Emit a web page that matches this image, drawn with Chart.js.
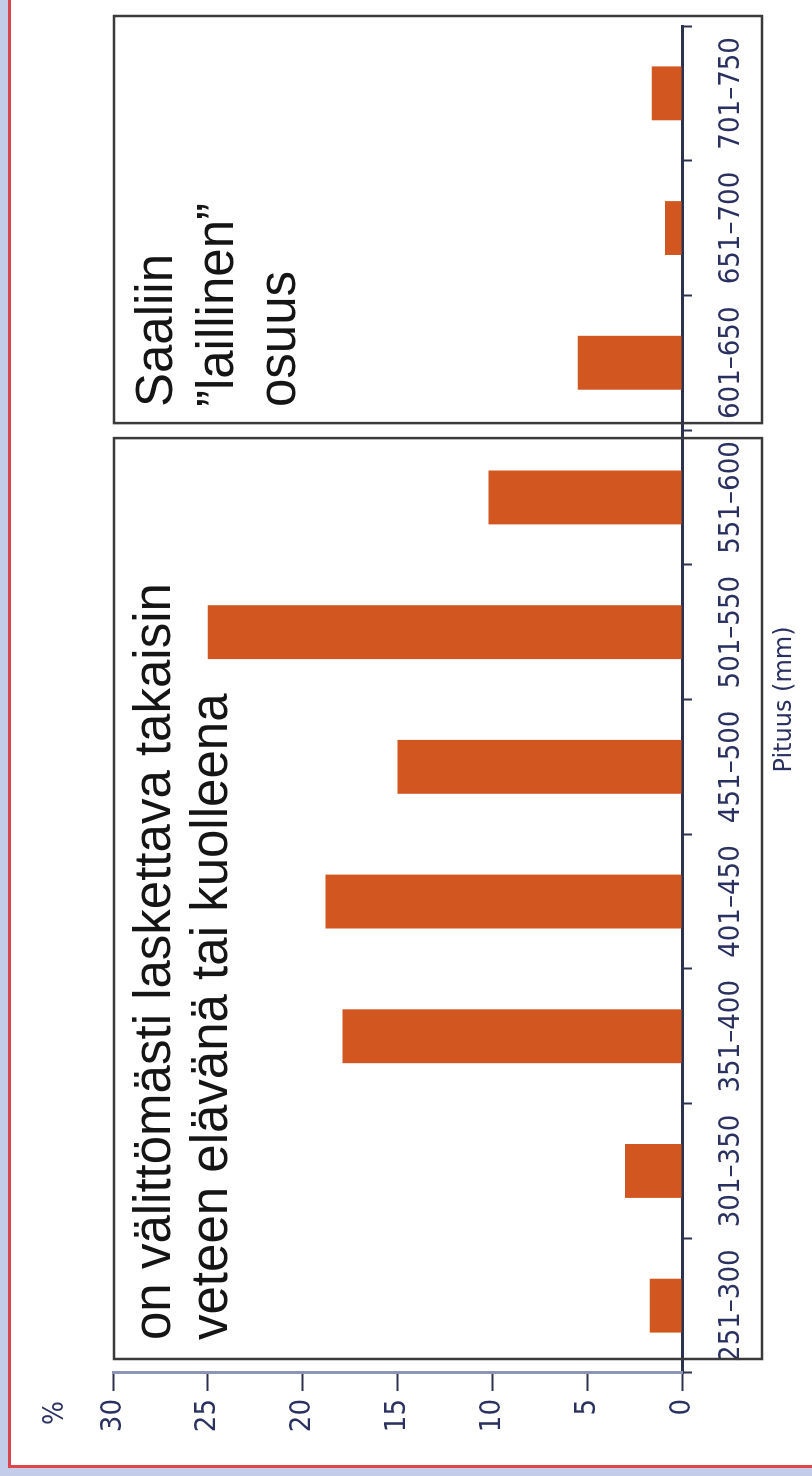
<!DOCTYPE html>
<html><head><meta charset="utf-8">
<script src="https://cdn.jsdelivr.net/npm/chart.js@4"></script>
<style>
html,body{margin:0;padding:0;background:#fff;width:812px;height:1476px;overflow:hidden}
body{position:relative}
#rot{position:absolute;left:0;top:0;width:1476px;height:812px;transform-origin:0 0;transform:translate(0,1476px) rotate(-90deg)}
#band{position:absolute;left:0;top:0;width:8px;height:1476px;background:#c3cdea}
#vred{position:absolute;left:8px;top:0;width:3px;height:1468px;background:#d9464f}
#hred{position:absolute;left:8px;top:1465px;width:804px;height:3px;background:#e0454c}
#bband{position:absolute;left:0;top:1468px;width:812px;height:8px;background:#c3cdea}
</style></head>
<body>
<div id="band"></div><div id="vred"></div><div id="hred"></div><div id="bband"></div>
<div id="rot"><canvas id="c" width="1476" height="812"></canvas></div>
<script>
const categories = ['251–300','301–350','351–400','401–450','451–500','501–550','551–600','601–650','651–700','701–750'];
const percentages = [1.7, 3.0, 17.9, 18.8, 15.0, 25.0, 10.2, 5.5, 0.9, 1.6];
const valueTicks = [0, 5, 10, 15, 20, 25, 30];
const axisTitle = 'Pituus (mm)';
const unitLabel = '%';
const noteReturned = ['on välittömästi laskettava takaisin', 'veteen elävänä tai kuolleena'];
const noteLegal = ['Saaliin', '”laillinen”', 'osuus'];

const tickFont = '"DejaVu Sans Condensed", "Liberation Sans Narrow", "DejaVu Sans", sans-serif';
const navy = '#2a3160';

const annot = {
  id: 'annot',
  afterDraw(chart) {
    const ctx = chart.ctx;
    const xs = chart.scales.x, ys = chart.scales.y;
    const split = xs.getPixelForValue(6.5);
    const top = ys.getPixelForValue(valueTicks[valueTicks.length - 1]) + 1;
    const bottom = 762;
    const b2 = {l: xs.left + 14, r: split - 8};
    const b1 = {l: split + 7, r: xs.right + 10};
    ctx.save();
    ctx.strokeStyle = '#3a3a3a';
    ctx.lineWidth = 2.5;
    ctx.strokeRect(b2.l, top, b2.r - b2.l, bottom - top);
    ctx.strokeRect(b1.l, top, b1.r - b1.l, bottom - top);
    ctx.fillStyle = '#151515';
    ctx.font = '51px "Liberation Sans", Arial, sans-serif';
    ctx.textBaseline = 'alphabetic';
    ctx.textAlign = 'left';
    [170, 227].forEach((y, i) => ctx.fillText(noteReturned[i], b2.l + 19, y));
    [172, 233, 295].forEach((y, i) => ctx.fillText(noteLegal[i], b1.l + 16, y));
    // unit label
    ctx.fillStyle = navy;
    ctx.font = '28px ' + tickFont;
    ctx.textAlign = 'center';
    ctx.textBaseline = 'middle';
    ctx.fillText(unitLabel, ys.right - 40, top - 58);
    ctx.restore();
  }
};

new Chart(document.getElementById('c'), {
  type: 'bar',
  data: {
    labels: categories,
    datasets: [{data: percentages, backgroundColor: '#d2561f', borderWidth: 0, categoryPercentage: 1, barPercentage: 0.4}]
  },
  options: {
    responsive: false, animation: false, devicePixelRatio: 1,
    layout: {padding: {left: 0, right: 26, top: 113, bottom: 0}},
    plugins: {legend: {display: false}, tooltip: {enabled: false}},
    scales: {
      x: {
        grid: {drawOnChartArea: false, drawTicks: true, tickLength: 10, tickColor: '#2c3150', tickWidth: 2, offset: true},
        border: {color: '#2c3150', width: 3},
        ticks: {font: {family: tickFont, size: 29}, color: navy, padding: 22, maxRotation: 0, autoSkip: false},
        title: {display: true, text: axisTitle, font: {family: '"DejaVu Sans", sans-serif', size: 24}, color: navy, padding: {top: 0, bottom: 13}},
        afterFit(s) { s.height = 130; s.paddingLeft = 0; s.paddingRight = 0; }
      },
      y: {
        min: valueTicks[0], max: valueTicks[valueTicks.length - 1],
        ticks: {stepSize: valueTicks[1] - valueTicks[0], font: {family: tickFont, size: 29}, color: navy, padding: 8},
        grid: {drawOnChartArea: false, drawTicks: true, tickLength: 18, tickColor: '#2c3150', tickWidth: 2},
        border: {color: '#8c95b8', width: 3},
        afterFit(s) { s.width = 103; }
      }
    }
  },
  plugins: [annot]
});
</script>
</body></html>
